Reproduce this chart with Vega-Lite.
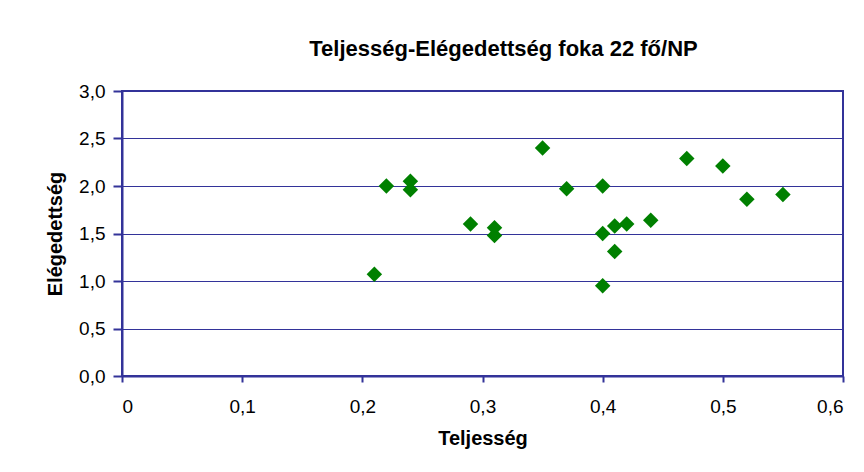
{
  "$schema": "https://vega.github.io/schema/vega-lite/v6.json",
  "autosize": "none",
  "width": 721,
  "height": 285,
  "padding": {"left": 122, "top": 91, "right": 21, "bottom": 96},
  "background": "white",
  "title": {
    "text": "Teljesség-Elégedettség foka 22 fő/NP",
    "font": "Liberation Sans",
    "fontSize": 22,
    "fontWeight": "bold",
    "color": "black",
    "anchor": "middle",
    "baseline": "alphabetic",
    "offset": 4,
    "dx": 21
  },
  "data": {
    "values": [
      {"Teljesség": 0.21, "Elégedettség": 1.07},
      {"Teljesség": 0.22, "Elégedettség": 2.00},
      {"Teljesség": 0.24, "Elégedettség": 2.05},
      {"Teljesség": 0.24, "Elégedettség": 1.96},
      {"Teljesség": 0.29, "Elégedettség": 1.60},
      {"Teljesség": 0.31, "Elégedettség": 1.56},
      {"Teljesség": 0.31, "Elégedettség": 1.48},
      {"Teljesség": 0.35, "Elégedettség": 2.40},
      {"Teljesség": 0.37, "Elégedettség": 1.97},
      {"Teljesség": 0.40, "Elégedettség": 2.00},
      {"Teljesség": 0.40, "Elégedettség": 1.50},
      {"Teljesség": 0.40, "Elégedettség": 0.95},
      {"Teljesség": 0.41, "Elégedettség": 1.58},
      {"Teljesség": 0.41, "Elégedettség": 1.31},
      {"Teljesség": 0.42, "Elégedettség": 1.60},
      {"Teljesség": 0.44, "Elégedettség": 1.64},
      {"Teljesség": 0.47, "Elégedettség": 2.29},
      {"Teljesség": 0.50, "Elégedettség": 2.21},
      {"Teljesség": 0.52, "Elégedettség": 1.86},
      {"Teljesség": 0.55, "Elégedettség": 1.91}
    ]
  },
  "mark": {"type": "point", "shape": "diamond", "filled": true, "color": "#008000", "size": 240, "opacity": 1},
  "encoding": {
    "x": {
      "field": "Teljesség",
      "type": "quantitative",
      "scale": {"domain": [0, 0.6], "nice": false, "zero": true},
      "axis": {
        "values": [0, 0.1, 0.2, 0.3, 0.4, 0.5, 0.6],
        "format": ".1~f",
        "grid": false,
        "title": "Teljesség",
        "tickSize": 6,
        "labelPadding": 15,
        "titlePadding": 12
      }
    },
    "y": {
      "field": "Elégedettség",
      "type": "quantitative",
      "scale": {"domain": [0, 3], "nice": false},
      "axis": {
        "values": [0, 0.5, 1, 1.5, 2, 2.5, 3],
        "format": ".1f",
        "grid": true,
        "title": "Elégedettség",
        "tickSize": 9,
        "labelPadding": 8,
        "titlePadding": 13
      }
    }
  },
  "config": {
    "locale": {
      "number": {"decimal": ",", "thousands": " ", "grouping": [3], "currency": ["", " Ft"]}
    },
    "view": {"stroke": "#333399", "strokeWidth": 2},
    "axis": {
      "domainColor": "#333399",
      "domainWidth": 2,
      "tickColor": "#333399",
      "tickWidth": 2,
      "gridColor": "#333399",
      "gridWidth": 1,
      "gridOpacity": 1,
      "labelFont": "Liberation Sans",
      "labelFontSize": 19,
      "labelColor": "black",
      "titleFont": "Liberation Sans",
      "titleFontSize": 20,
      "titleFontWeight": "bold",
      "titleColor": "black"
    }
  }
}
